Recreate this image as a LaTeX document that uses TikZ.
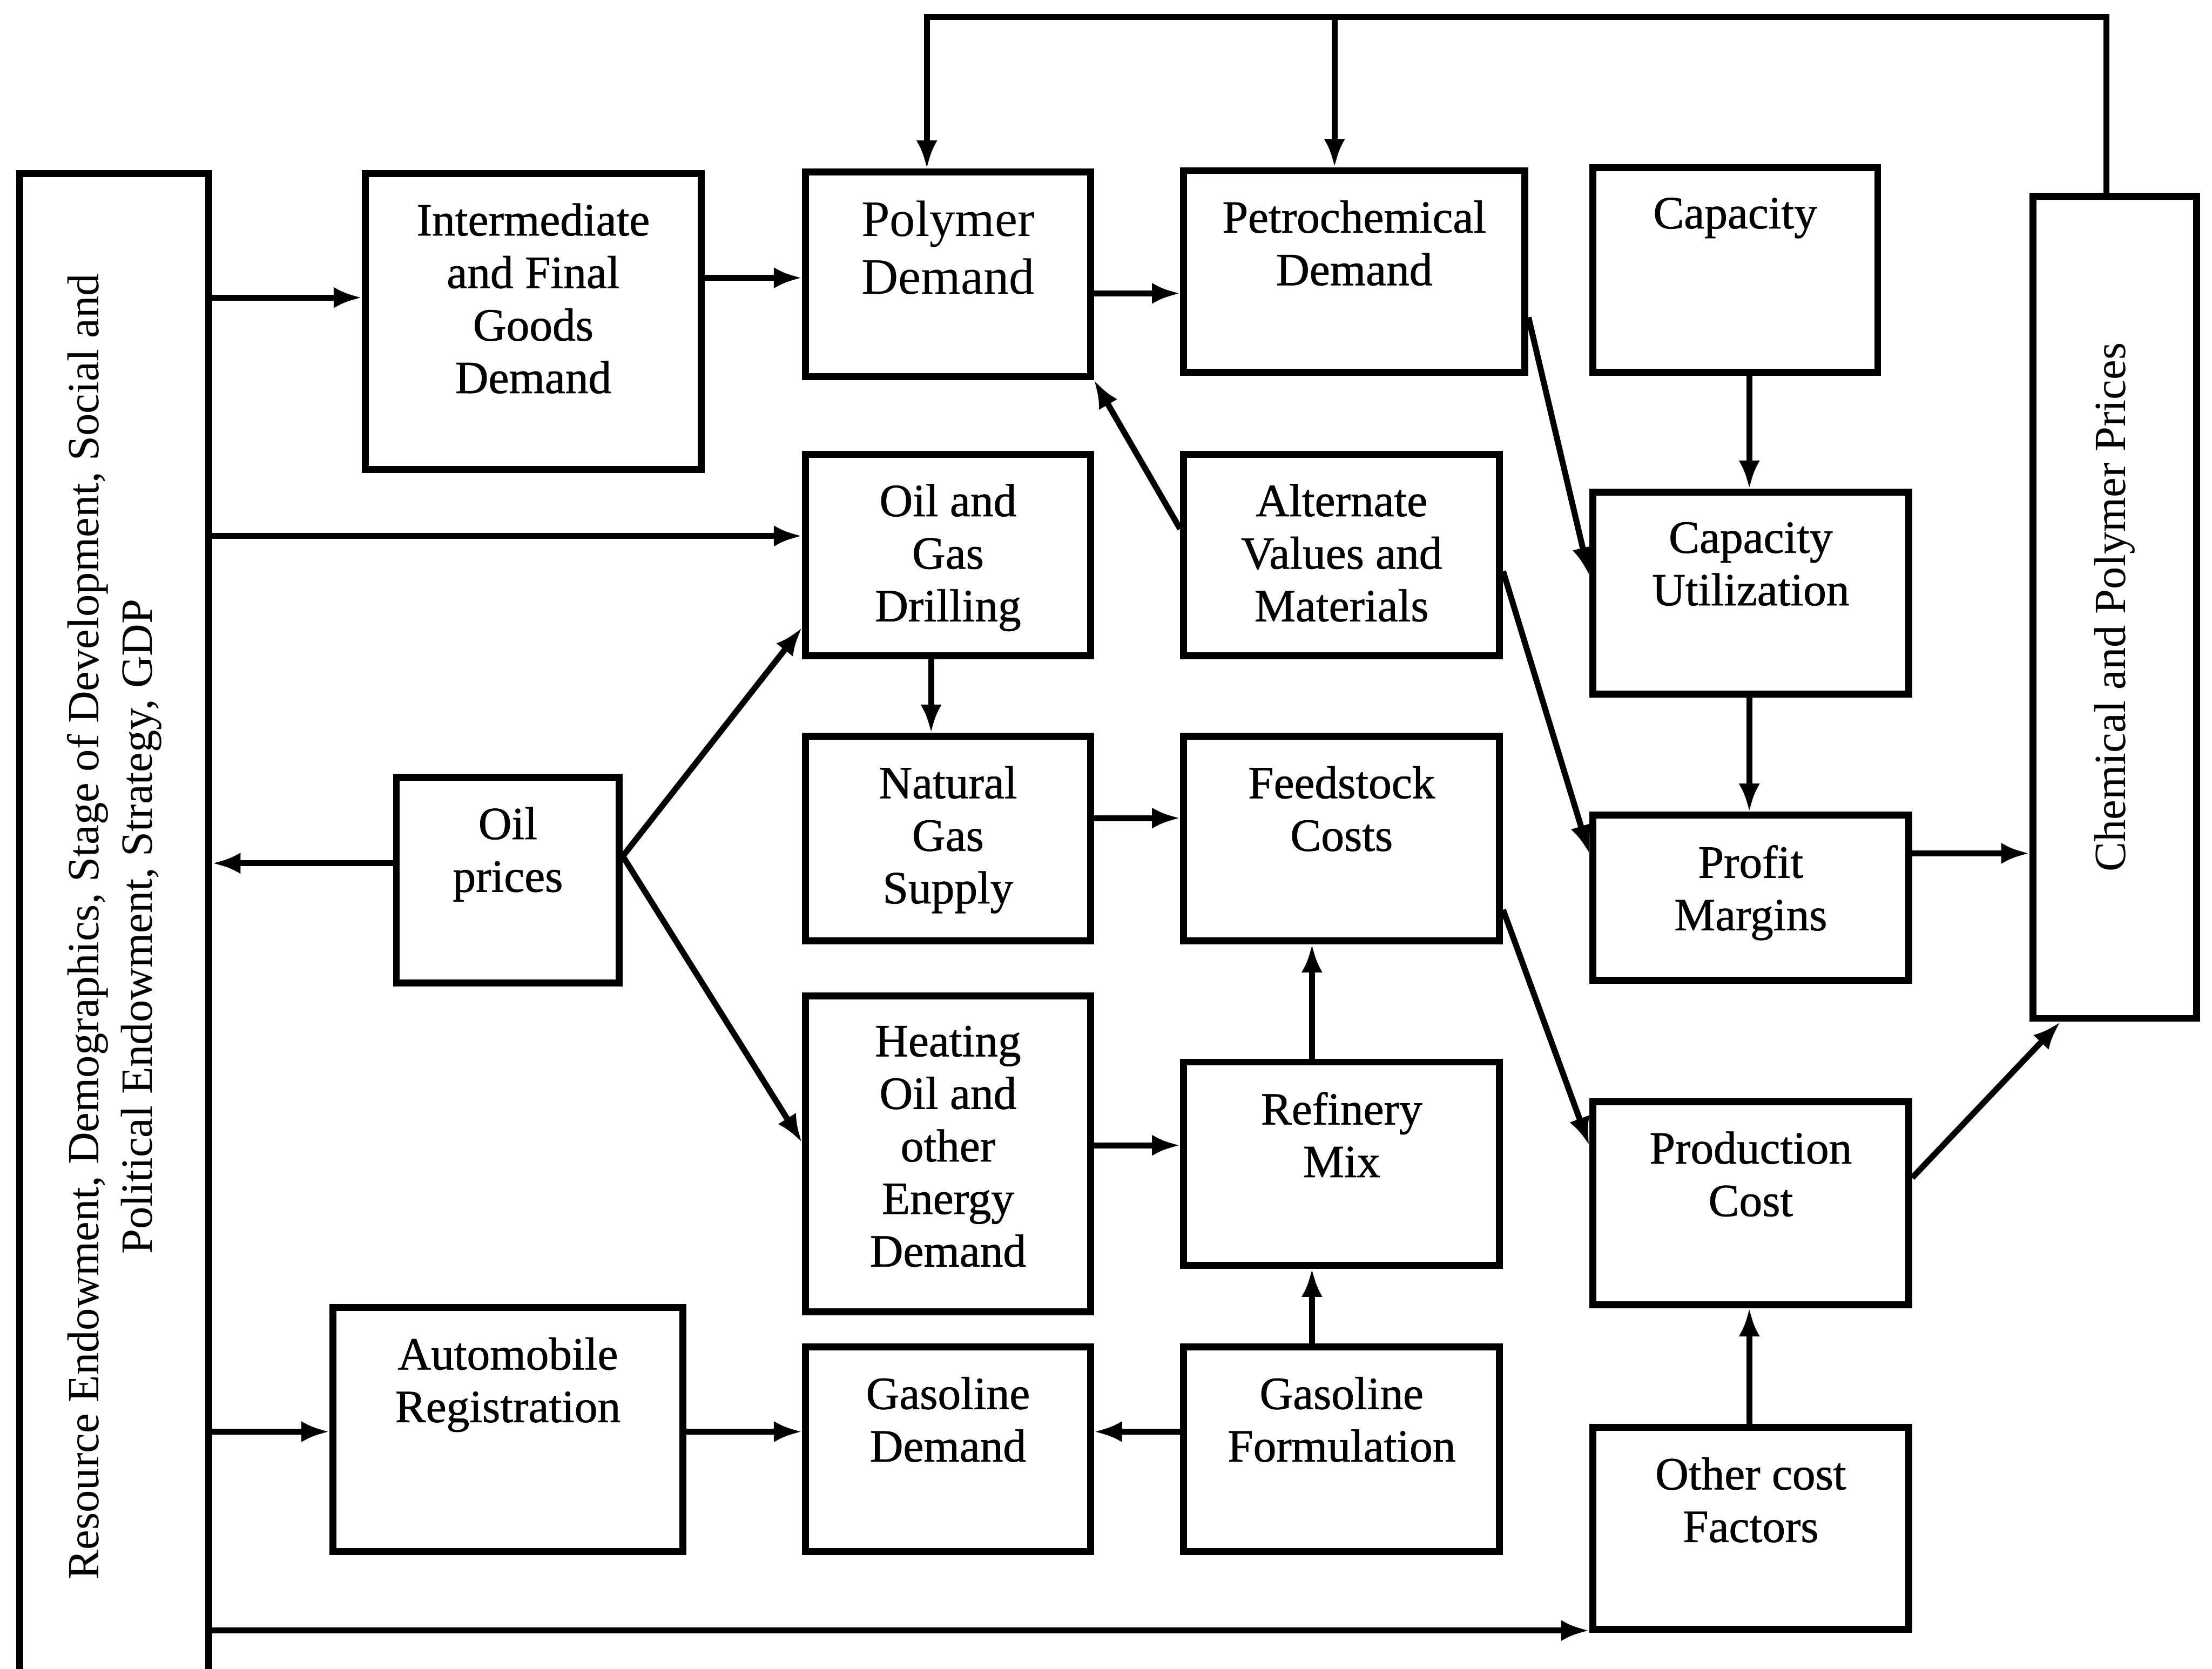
\documentclass[tikz,border=0pt]{standalone}
\usepackage{fontspec}
\setmainfont{Liberation Serif}
\newfontfamily\boxfont{Liberation Serif}[FakeBold=0.9]
\usetikzlibrary{arrows.meta}
\usetikzlibrary{positioning}

\begin{document}
\begin{tikzpicture}[>={Latex[length=2mm,width=1.5mm]},
    box/.style={draw, line width=1.4pt, inner sep=0pt, minimum width=2.24cm, minimum height=1.44cm},
    lbl/.style={align=center, inner sep=0pt, font=\boxfont\fontsize{9.3}{10.6}\selectfont},
    arr/.style={->, line width=1.2pt}]

  \useasboundingbox (0,0) rectangle (15.68,11.83);
  \clip (0,0) rectangle (15.68,11.83);

  % boxes
  \node[box, minimum width=1.34cm, minimum height=10.77cm] (res)    at (0.81,5.215) {};
  \node[box, minimum width=2.38cm, minimum height=2.10cm]  (inter)  at (3.78,9.55)  {};
  \node[box, minimum width=2.02cm, minimum height=1.45cm]  (poly)   at (6.72,9.885) {};
  \node[box, minimum width=2.42cm, minimum height=1.43cm]  (petro)  at (9.60,9.905) {};
  \node[box, minimum width=2.02cm, minimum height=1.45cm]  (cap)    at (12.30,9.915) {};
  \node[box, minimum width=1.16cm, minimum height=5.83cm]  (prices) at (14.99,7.525) {};
  \node[box, minimum width=2.02cm, minimum height=1.43cm]  (drill)  at (6.72,7.895) {};
  \node[box, minimum height=1.43cm]                        (alt)    at (9.51,7.895) {};
  \node[box, minimum height=1.43cm]                        (util)   at (12.41,7.625) {};
  \node[box, minimum width=1.58cm, minimum height=1.46cm]  (oil)    at (3.60,5.59)  {};
  \node[box, minimum width=2.02cm, minimum height=1.45cm]  (gas)    at (6.72,5.885) {};
  \node[box, minimum height=1.45cm]                        (feed)   at (9.51,5.885) {};
  \node[box, minimum height=1.17cm]                        (profit) at (12.41,5.465) {};
  \node[box, minimum width=2.02cm, minimum height=2.24cm]  (heat)   at (6.72,3.65)  {};
  \node[box]                                               (refin)  at (9.51,3.58)  {};
  \node[box]                                               (prod)   at (12.41,3.30) {};
  \node[box, minimum width=2.48cm, minimum height=1.73cm]  (auto)   at (3.60,1.695) {};
  \node[box, minimum width=2.02cm, minimum height=1.45cm]  (gdem)   at (6.72,1.555) {};
  \node[box, minimum height=1.45cm]                        (gform)  at (9.51,1.555) {};
  \node[box, minimum height=1.43cm]                        (other)  at (12.41,0.995) {};

  % texts
  \node[lbl, rotate=90, font=\fontsize{9}{10.8}\selectfont] (resT) at (0.81,5.26)
    {Resource Endowment, Demographics, Stage of Development, Social and\\Political Endowment, Strategy, GDP};
  \node[lbl, rotate=90, font=\fontsize{9}{10.8}\selectfont] (pricesT) at (prices) {Chemical and Polymer Prices};
  \node[lbl, below=2.3mm of inter.north] (interT) {Intermediate\\and Final\\Goods\\Demand};
  \node[lbl, below=2.2mm of poly.north, font=\fontsize{10.3}{11.7}\selectfont] (polyT) {Polymer\\Demand};
  \node[lbl, below=2.3mm of petro.north]  (petroT)  {Petrochemical\\Demand};
  \node[lbl, below=2.3mm of cap.north]    (capT)    {Capacity};
  \node[lbl, below=2.3mm of drill.north]  (drillT)  {Oil and\\Gas\\Drilling};
  \node[lbl, below=2.3mm of alt.north]    (altT)    {Alternate\\Values and\\Materials};
  \node[lbl, below=2.3mm of util.north]   (utilT)   {Capacity\\Utilization};
  \node[lbl, below=2.3mm of oil.north]    (oilT)    {Oil\\prices};
  \node[lbl, below=2.3mm of gas.north]    (gasT)    {Natural\\Gas\\Supply};
  \node[lbl, below=2.3mm of feed.north]   (feedT)   {Feedstock\\Costs};
  \node[lbl, below=2.3mm of profit.north] (profitT) {Profit\\Margins};
  \node[lbl, below=2.3mm of heat.north]   (heatT)   {Heating\\Oil and\\other\\Energy\\Demand};
  \node[lbl, below=2.3mm of refin.north]  (refinT)  {Refinery\\Mix};
  \node[lbl, below=2.3mm of prod.north]   (prodT)   {Production\\Cost};
  \node[lbl, below=2.3mm of auto.north]   (autoT)   {Automobile\\Registration};
  \node[lbl, below=2.3mm of gdem.north]   (gdemT)   {Gasoline\\Demand};
  \node[lbl, below=2.3mm of gform.north]  (gformT)  {Gasoline\\Formulation};
  \node[lbl, below=2.3mm of other.north]  (otherT)  {Other cost\\Factors};

  % horizontal links
  \draw[arr] (res.east |- 0,9.72)    -- (inter.west |- 0,9.72);
  \draw[arr] (inter.east |- 0,9.86)  -- (poly.west |- 0,9.86);
  \draw[arr] (poly.east |- 0,9.75)   -- (petro.west |- 0,9.75);
  \draw[arr] (res.east |- 0,8.03)    -- (drill.west |- 0,8.03);
  \draw[arr] (oil.west |- 0,5.71)    -- (res.east |- 0,5.71);
  \draw[arr] (gas.east |- 0,6.03)    -- (feed.west |- 0,6.03);
  \draw[arr] (heat.east |- 0,3.71)   -- (refin.west |- 0,3.71);
  \draw[arr] (res.east |- 0,1.68)    -- (auto.west |- 0,1.68);
  \draw[arr] (auto.east |- 0,1.68)   -- (gdem.west |- 0,1.68);
  \draw[arr] (gform.west |- 0,1.68)  -- (gdem.east |- 0,1.68);
  \draw[arr] (res.east |- 0,0.27)    -- (other.west |- 0,0.27);
  \draw[arr] (profit.east |- 0,5.78) -- (prices.west |- 0,5.78);

  % vertical links
  \draw[arr] (drill.south -| 6.60,0) -- (gas.north -| 6.60,0);
  \draw[arr] (refin.north -| 9.30,0) -- (feed.south -| 9.30,0);
  \draw[arr] (gform.north -| 9.30,0) -- (refin.south -| 9.30,0);
  \draw[arr] (cap.south -| 12.40,0)  -- (util.north -| 12.40,0);
  \draw[arr] (util.south -| 12.40,0) -- (profit.north -| 12.40,0);
  \draw[arr] (other.north -| 12.40,0) -- (prod.south -| 12.40,0);

  % slanted links
  \draw[arr] (oil.east |- 0,5.76) -- (drill.west |- 0,7.38);
  \draw[arr] (oil.east |- 0,5.76) -- (heat.west |- 0,3.73);
  \draw[arr] (alt.west |- 0,8.08) -- (poly.south east);
  \draw[arr] (petro.east |- 0,9.58) -- (util.west |- 0,7.75);
  \draw[arr] (alt.east |- 0,7.78) -- (profit.west |- 0,5.78);
  \draw[arr] (feed.east |- 0,5.38) -- (prod.west |- 0,3.71);
  \draw[arr] (prod.east |- 0,3.48) -- ([xshift=2.2mm]prices.south west);

  % feedback from prices
  \coordinate (top) at (9.46,11.71);
  \draw[arr] (prices.north -| 14.93,0) |- (top) -| (poly.north -| 6.57,0);
  \draw[arr] (top) -- (petro.north -| 9.46,0);
\end{tikzpicture}
\end{document}
